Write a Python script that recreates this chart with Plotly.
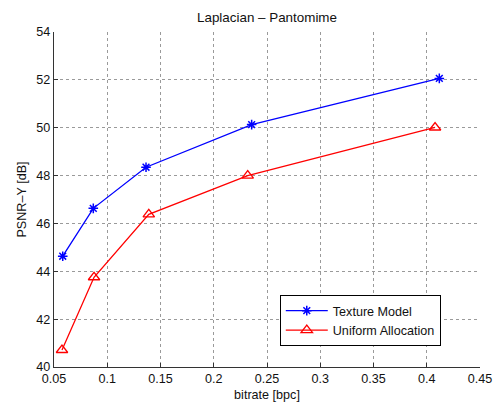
import plotly.graph_objects as go

bitrate_texture = [0.0582, 0.0869, 0.1364, 0.2356, 0.4118]
psnr_texture = [44.63, 46.63, 48.35, 50.13, 52.06]
bitrate_uniform = [0.0575, 0.0876, 0.1390, 0.2319, 0.4078]
psnr_uniform = [40.71, 43.75, 46.38, 48.00, 50.01]

x_ticks = [0.05, 0.1, 0.15, 0.2, 0.25, 0.3, 0.35, 0.4, 0.45]
x_labels = ["0.05", "0.1", "0.15", "0.2", "0.25", "0.3", "0.35", "0.4", "0.45"]
y_ticks = [40, 42, 44, 46, 48, 50, 52, 54]

FONT = "Liberation Sans, Arial, Helvetica, sans-serif"
FS = 12.6

fig = go.Figure()
fig.add_trace(go.Scatter(
    x=bitrate_texture, y=psnr_texture, mode="lines+markers", name="Texture Model",
    line=dict(color="#0000ff", width=1.3),
    marker=dict(symbol="asterisk-open", size=8, color="#0000ff", line=dict(color="#0000ff", width=1.5)),
))
fig.add_trace(go.Scatter(
    x=bitrate_uniform, y=psnr_uniform, mode="lines+markers", name="Uniform Allocation",
    line=dict(color="#ff0000", width=1.3),
    marker=dict(symbol="triangle-up-open", size=10, color="#ff0000", line=dict(color="#ff0000", width=1.3)),
))

fig.update_layout(
    width=504, height=403,
    paper_bgcolor="white", plot_bgcolor="white",
    margin=dict(l=54, r=24, t=32, b=36, autoexpand=False),
    font=dict(family=FONT, size=FS, color="#111111"),
    title=dict(text="Laplacian – Pantomime", x=0.5, xref="paper", xanchor="center",
               y=1 - 17 / 403, yanchor="middle", font=dict(size=13.4)),
    showlegend=True,
    legend=dict(
        x=0.53, y=0.215, xanchor="left", yanchor="top",
        bgcolor="white", bordercolor="#000000", borderwidth=1,
        font=dict(size=FS), tracegroupgap=0, itemwidth=42,
    ),
    xaxis=dict(
        range=[0.05, 0.45], tickvals=x_ticks, ticktext=x_labels, automargin=False,
        showgrid=True, gridcolor="#9a9a9a", griddash="dot", gridwidth=1,
        showline=True, linecolor="#333333", linewidth=1.2, mirror=False,
        ticks="inside", ticklen=4, tickcolor="#333333", zeroline=False,
        title=dict(text="bitrate [bpc]", standoff=4, font=dict(size=FS)),
        tickfont=dict(size=FS),
    ),
    yaxis=dict(
        range=[40, 54], tickvals=y_ticks, automargin=False,
        showgrid=True, gridcolor="#9a9a9a", griddash="dot", gridwidth=1,
        showline=True, linecolor="#333333", linewidth=1.2, mirror=False,
        ticks="inside", ticklen=4, tickcolor="#333333", zeroline=False,
        title=dict(text="PSNR–Y [dB]", standoff=6, font=dict(size=FS)),
        tickfont=dict(size=FS),
    ),
)

fig.write_html("out.html")
